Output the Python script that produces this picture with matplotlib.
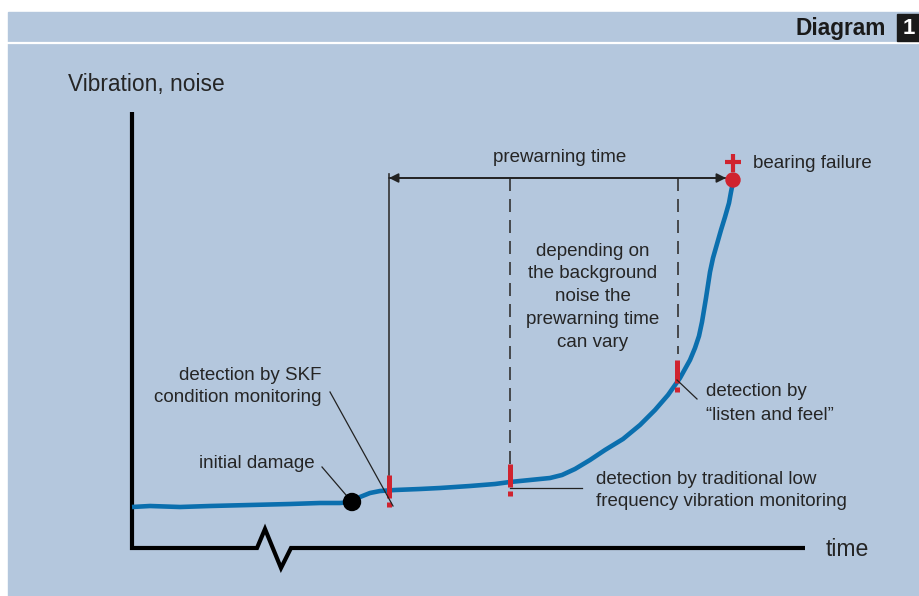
import matplotlib.pyplot as plt
from matplotlib.patches import Rectangle, Circle

plt.rcParams['font.family'] = ['Liberation Sans', 'DejaVu Sans']

# vibration level over time (drawing units, y grows downward)
curve_t = [132, 150, 180, 210, 250, 290, 320, 340, 352, 360, 370, 380, 395, 420,
           440, 470, 495, 510, 530, 550, 562, 575, 590, 605, 623, 640, 655, 668,
           680, 690, 695, 699, 702, 704, 706, 708, 710, 713, 717, 721, 725, 729,
           731, 733]
curve_v = [507, 506, 507, 506, 505, 504, 503, 503, 502, 497, 493, 491, 490, 489,
           488, 486, 484, 482, 480, 478, 475, 469, 460, 450, 439, 425, 410, 395,
           378, 360, 348, 336, 322, 310, 298, 285, 272, 258, 244, 230, 217, 203,
           192, 182]

initial_damage = (352, 502)
failure = (733, 180)
# detection events: x position, top of "!" mark
skf_mark = (389, 475)
trad_mark = (510, 464)
listen_mark = (677, 360)

note_lines = ["depending on", "the background", "noise the", "prewarning time", "can vary"]

bg = '#b4c7dd'
blue = '#0b6fae'
red = '#d0232f'
ink = '#252525'
fs = 13.5

fig = plt.figure(figsize=(9.2, 5.96), dpi=100, facecolor='white')
ax = fig.add_axes([0, 0, 1, 1])
ax.set_xlim(0, 920)
ax.set_ylim(596, 0)
ax.axis('off')

# panel background and header
ax.add_patch(Rectangle((8, 12), 912, 584, color=bg, zorder=0))
ax.plot([8, 920], [43, 43], color='white', lw=1.6, zorder=1)
ax.add_patch(Rectangle((897, 14), 23, 27, color='#1a1a1a', zorder=2))
ax.text(908.5, 28, "1", color='white', fontsize=16, fontweight='bold',
        ha='center', va='center', zorder=3)
ax.text(886, 28, "Diagram", color='#1a1a1a', fontsize=16.3, fontweight='bold',
        ha='right', va='center')

# axes with broken time axis
ax.plot([132, 132, 257, 265, 281, 291, 805], [112, 548, 548, 529, 568, 548, 548],
        color='black', lw=3, solid_joinstyle='miter', solid_capstyle='butt')
ax.text(68, 85, "Vibration, noise", color=ink, fontsize=16.4, va='center')
ax.text(826, 549, "time", color=ink, fontsize=16.6, va='center')

# prewarning span
ax.plot([skf_mark[0], skf_mark[0]], [174, skf_mark[1]], color='#333333', lw=1.2)
ax.plot([trad_mark[0], trad_mark[0]], [178, trad_mark[1] + 26], color='#333333',
        lw=1.2, dashes=(7.8, 4.8))
ax.plot([listen_mark[0] + 1, listen_mark[0] + 1], [178, listen_mark[1] - 6],
        color='#333333', lw=1.2, dashes=(7.8, 4.8))
ax.annotate("", xy=(skf_mark[0], 178), xytext=(failure[0] - 7, 178),
            arrowprops=dict(arrowstyle='-|>', color='#222222', lw=1.2,
                            mutation_scale=14, shrinkA=0, shrinkB=0))
ax.annotate("", xy=(failure[0] - 7, 178), xytext=(skf_mark[0], 178),
            arrowprops=dict(arrowstyle='-|>', color='#222222', lw=1.2,
                            mutation_scale=14, shrinkA=0, shrinkB=0))
ax.text(560, 158, "prewarning time", color=ink, fontsize=fs, ha='center', va='center')

# curve
ax.plot(curve_t, curve_v, color=blue, lw=3.3, solid_capstyle='butt',
        solid_joinstyle='round', zorder=4)
ax.add_patch(Circle(initial_damage, 8.5, color='black', zorder=5))
ax.add_patch(Circle(failure, 7, color=red, zorder=5))
ax.plot([failure[0], failure[0]], [154, 172], color=red, lw=3, solid_capstyle='butt', zorder=5)
ax.plot([725, 741], [162, 162], color=red, lw=3, solid_capstyle='butt', zorder=5)
ax.text(753, 164, "bearing failure", color=ink, fontsize=fs, va='center')

# "!" detection marks
for mx, my in (skf_mark, trad_mark, listen_mark):
    ax.plot([mx, mx], [my, my + 23], color=red, lw=3.6, solid_capstyle='butt', zorder=6)
    ax.plot([mx, mx], [my + 27, my + 32], color=red, lw=3.6, solid_capstyle='butt', zorder=6)

# labels and leaders
ax.plot([330, skf_mark[0] + 4], [392, 506], color='#222222', lw=0.9, zorder=7)
ax.text(322, 375, "detection by SKF", color=ink, fontsize=fs, ha='right', va='center')
ax.text(322, 398, "condition monitoring", color=ink, fontsize=fs, ha='right', va='center')

ax.plot([322, initial_damage[0]], [467, initial_damage[1]], color='#222222', lw=0.9)
ax.text(315, 463, "initial damage", color=ink, fontsize=fs, ha='right', va='center')

ax.plot([trad_mark[0], 582], [488, 488], color='#222222', lw=0.9, zorder=7)
ax.text(596, 480, "detection by traditional low", color=ink, fontsize=fs, va='center')
ax.text(596, 502, "frequency vibration monitoring", color=ink, fontsize=fs, va='center')

ax.plot([listen_mark[0], 697], [380, 399], color='#222222', lw=0.9, zorder=7)
ax.text(706, 392, "detection by", color=ink, fontsize=fs, va='center')
ax.text(706, 415, "\u201clisten and feel\u201d", color=ink, fontsize=fs, va='center')

for i, line in enumerate(note_lines):
    ax.text(593, 251 + i * 22.8, line, color=ink, fontsize=fs, ha='center', va='center')

fig.savefig("out.png", dpi=100, facecolor=fig.get_facecolor())
